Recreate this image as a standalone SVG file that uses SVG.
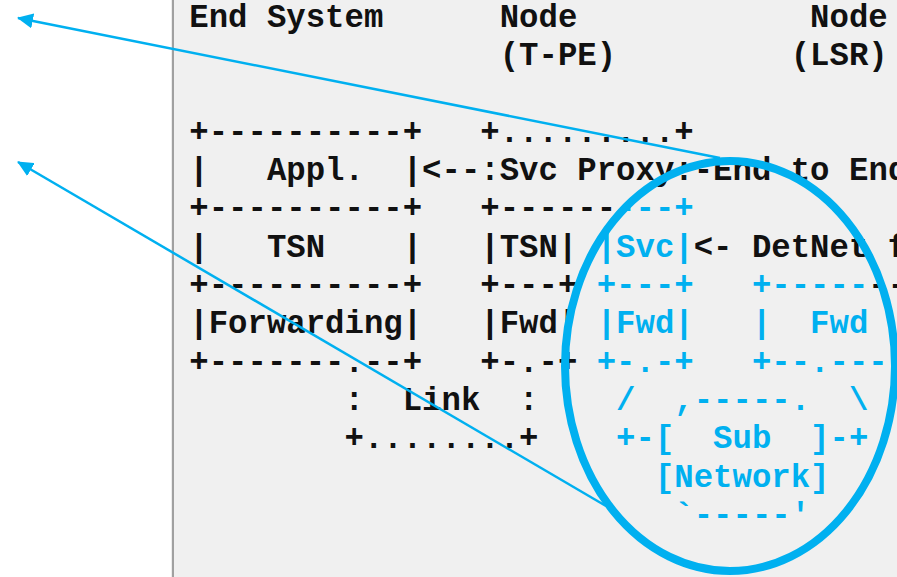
<svg xmlns="http://www.w3.org/2000/svg" width="897" height="577" viewBox="0 0 897 577">
  <style>
    .t { font-family: "Liberation Mono", "Courier New", monospace; font-size: 32.33px; font-weight: bold; }
    .k { fill: #111111; }
    .b { fill: #00b0f0; }
    .conn { stroke: #00b0f0; stroke-width: 2.5; fill: none; marker-end: url(#ah); }
  </style>
  <defs>
    <marker id="ah" markerUnits="userSpaceOnUse" viewBox="0 0 16 15" refX="15" refY="7.5" markerWidth="16" markerHeight="15" orient="auto">
      <path d="M0,0 L16,7.5 L0,15 Z" fill="#00b0f0"/>
    </marker>
  </defs>
  <rect x="0" y="0" width="897" height="577" fill="#ffffff"/>
  <rect id="panel" x="173" y="0" width="724" height="577" fill="#f0f0f0"/>
  <line x1="172.9" y1="0" x2="172.9" y2="577" stroke="#a0a0a0" stroke-width="2.2"/>

  <g id="labels" class="t">
    <text class="k" x="189.3" y="26.6">End System</text>
    <text class="k" x="499.7" y="26.6">Node</text>
    <text class="k" x="810.1" y="26.6">Node</text>
    <text class="k" x="499.7" y="64.95">(T-PE)</text>
    <text class="k" x="790.7" y="64.95">(LSR)</text>
  </g>

  <g id="end-system" class="t">
    <text class="k" x="189.3" y="141.65">+----------+</text>
    <text class="k" x="189.3" y="180">|</text>
    <text class="k" x="266.9" y="180">Appl.</text>
    <text class="k" x="189.3" y="218.35">+----------+</text>
    <text class="k" x="189.3" y="256.7">|</text>
    <text class="k" x="266.9" y="256.7">TSN</text>
    <text class="k" x="402.7" y="256.7">|</text>
    <text class="k" x="189.3" y="295.05">+----------+</text>
    <text class="k" x="189.3" y="333.4">|Forwarding|</text>
    <text class="k" x="189.3" y="371.75">+-------.--+</text>
  </g>

  <g id="link" class="t">
    <text class="k" x="344.5" y="410.1">:</text>
    <text class="k" x="402.7" y="410.1">Link</text>
    <text class="k" x="519.1" y="410.1">:</text>
    <text class="k" x="344.5" y="448.45">+........+</text>
  </g>

  <g id="edge-node" class="t">
    <text class="k" x="480.3" y="141.65">+.........+</text>
    <text class="k" x="402.7" y="180">|&lt;--:Svc</text>
    <text class="k" x="577.3" y="180">Proxy:-End</text>
    <text class="k" x="790.7" y="180">to</text>
    <text class="k" x="849.1" y="180">End</text>
    <text class="k" x="480.3" y="218.35">+------</text>
    <text class="b" x="616.1" y="218.35">---+</text>
    <text class="k" x="480.3" y="256.7">|TSN|</text>
    <text class="b" x="596.7" y="256.7">|Svc|</text>
    <text class="k" x="693.7" y="256.7">&lt;-</text>
    <text class="k" x="751.9" y="256.7">DetNet</text>
    <text class="k" x="887.7" y="256.7">f</text>
    <text class="k" x="480.3" y="295.05">+---+</text>
    <text class="b" x="596.7" y="295.05">+---+</text>
    <text class="k" x="480.3" y="333.4">|Fwd|</text>
    <text class="b" x="596.7" y="333.4">|Fwd|</text>
    <text class="k" x="480.3" y="371.75">+-.-+</text>
    <text class="b" x="596.7" y="371.75">+-.-+</text>
  </g>

  <g id="transit-node" class="t">
    <text class="b" x="751.9" y="295.05">+-----</text>
    <text class="k" x="868.3" y="295.05">--</text>
    <text class="b" x="751.9" y="333.4">|</text>
    <text class="b" x="810.1" y="333.4">Fwd</text>
    <text class="b" x="751.9" y="371.75">+--.----</text>
  </g>

  <g id="sub-network" class="t">
    <text class="b" x="616.1" y="410.1">/</text>
    <text class="b" x="674.3" y="410.1">,-----.</text>
    <text class="b" x="849.1" y="410.1">\</text>
    <text class="b" x="616.1" y="448.45">+-[</text>
    <text class="b" x="713.1" y="448.45">Sub</text>
    <text class="b" x="810.1" y="448.45">]-+</text>
    <text class="b" x="654.9" y="486.8">[Network]</text>
    <text class="b" x="674.3" y="525.15">`-----'</text>
  </g>

  <g id="highlight">
    <ellipse cx="730" cy="366" rx="165" ry="205" fill="none" stroke="#00b0f0" stroke-width="8"/>
  </g>

  <g id="connectors">
    <line class="conn" x1="720" y1="158" x2="18" y2="18"/>
    <line class="conn" x1="606" y1="506" x2="18" y2="162"/>
  </g>
</svg>
